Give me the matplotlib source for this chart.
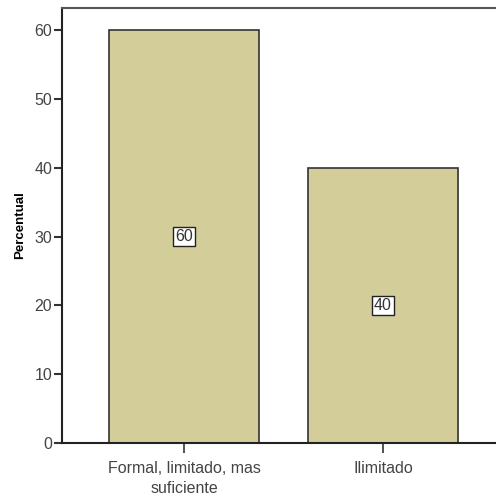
import matplotlib.pyplot as plt

categorias = ["Formal, limitado, mas\nsuficiente", "Ilimitado"]
percentual = [60, 40]

plt.rcParams['font.family'] = ['Liberation Sans', 'DejaVu Sans']

fig = plt.figure(figsize=(4.96, 4.97), dpi=100)
ax = fig.add_axes([0.125, 0.1087, 0.875, 0.8752])

x = range(len(categorias))
bars = ax.bar(x, percentual, width=0.75, color='#D3CE99', edgecolor='#333333', linewidth=1.2)

for b, v in zip(bars, percentual):
    ax.text(b.get_x() + b.get_width() / 2, v / 2, str(v), ha='center', va='center',
            fontsize=11.5, color='#333333',
            bbox=dict(boxstyle='square,pad=0.12', facecolor='white', edgecolor='#222222', linewidth=1))

ax.set_xlim(-0.613, 1.568)
ax.set_ylim(0, 63.2)
ax.set_yticks([0, 10, 20, 30, 40, 50, 60])
ax.set_xticks(list(x))
ax.set_xticklabels(categorias, fontsize=11.5, color='#444444', linespacing=1.4)
ax.tick_params(axis='y', labelsize=11.5, labelcolor='#444444', length=6, width=1.5, color='#333333', pad=1)
ax.tick_params(axis='x', length=7, width=1.2, color='#333333', pad=6)
ax.set_ylabel('Percentual', fontsize=9.5, fontweight='bold', labelpad=6)

ax.spines['right'].set_visible(False)
for s in ['left', 'bottom']:
    ax.spines[s].set_linewidth(1.5)
    ax.spines[s].set_color('#222222')
ax.spines['top'].set_linewidth(1.5)
ax.spines['top'].set_color('#555555')

fig.savefig('out.png', dpi=100)
